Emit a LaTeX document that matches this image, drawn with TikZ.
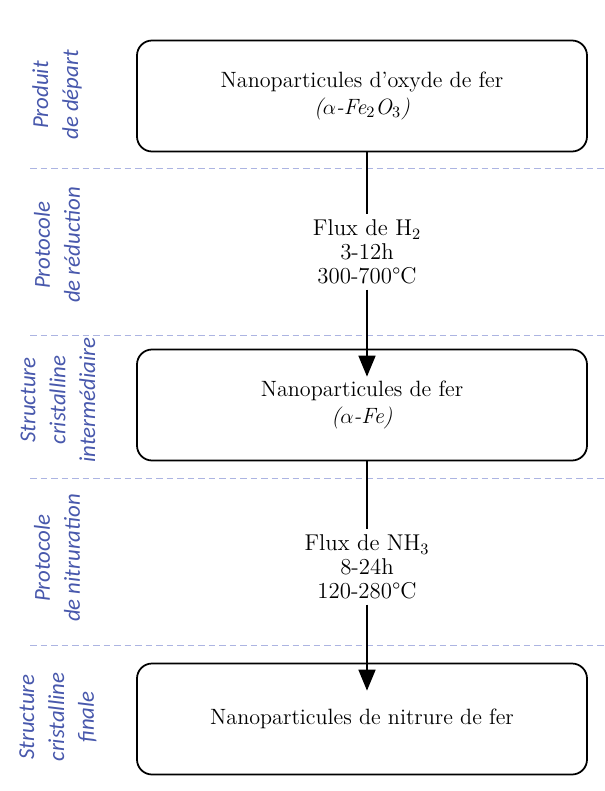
\documentclass[tikz,border=0pt]{standalone}
\usepackage{fontspec}
\newfontfamily\sidefont{Carlito}
\usetikzlibrary{arrows.meta,positioning,calc}
\definecolor{stageblue}{RGB}{72,88,172}
\definecolor{rulegray}{RGB}{172,180,226}

\begin{document}
\begin{tikzpicture}[
 stage/.style={draw,rounded corners=3mm,line width=1pt,minimum width=9cm,minimum height=2.22cm,align=center,font=\fontsize{12.6}{15.3}\selectfont},
 cond/.style={align=center,font=\fontsize{13}{13.5}\selectfont,inner sep=3pt},
 side/.style={rotate=90,align=center,text=stageblue,font=\sidefont\itshape\fontsize{13}{17}\selectfont},
 sep/.style={rulegray,line width=0.5pt,dash pattern=on 1.3mm off 0.8mm},
 flow/.style={-{Triangle[length=4.2mm,width=3.4mm]},line width=1pt,shorten >=-5.6mm}
]
\useasboundingbox (0,0) rectangle (12.1,-15.82);
\foreach \y in {-3.36,-6.7,-9.56,-12.9}
 \draw[sep] (0.6,\y) -- (12.1,\y);
\node[stage] (b1) at (7.24,-1.92) {Nanoparticules d’oxyde de fer\\\textit{($\alpha$-Fe$_2$O$_3$)}};
\node[stage] (b2) at (7.24,-8.1) {Nanoparticules de fer\\\textit{($\alpha$-Fe)}};
\node[stage] (b3) at (7.24,-14.38) {Nanoparticules de nitrure de fer};
\node[cond] (f1) at (7.34,-5.04) {Flux de H$_2$\\3-12h\\300-700°C};
\node[cond] (f2) at (7.34,-11.34) {Flux de NH$_3$\\8-24h\\120-280°C};
\draw[line width=1pt] (f1 |- b1.south) -- (f1);
\draw[flow] (f1) -- (f1 |- b2.north);
\draw[line width=1pt] (f2 |- b2.south) -- (f2);
\draw[flow] (f2) -- (f2 |- b3.north);
\node[side] (s1) at (1.14,-1.9) {Produit\\de départ};
\node[side] (s2) at (1.14,-4.9) {Protocole\\de réduction};
\node[side] (s3) at (1.16,-8.0) {Structure\\cristalline\\intermédiaire};
\node[side] (s4) at (1.14,-11.16) {Protocole\\de nitruration};
\node[side] (s5) at (1.16,-14.34) {Structure\\cristalline\\finale};
\end{tikzpicture}
\end{document}
